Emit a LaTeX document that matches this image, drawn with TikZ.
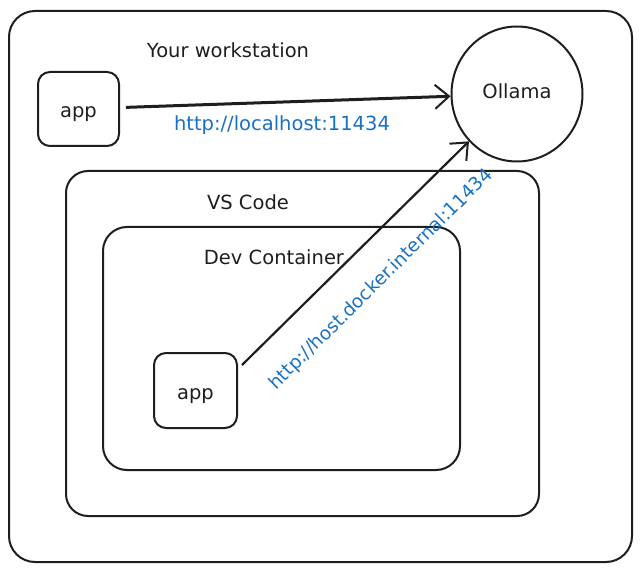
\documentclass[tikz,border=0pt]{standalone}
\usepackage{fontspec}
\setmainfont{DejaVu Sans}
\usetikzlibrary{arrows.meta,shapes.geometric}
\definecolor{ink}{HTML}{1E1E1E}
\definecolor{linkblue}{HTML}{1971C2}
\tikzset{
  box/.style={draw=ink, line width=2pt, rounded corners=#1, inner sep=0pt},
  box/.default=12pt,
  lbl/.style={text=ink, font=\fontsize{19.5}{22}\selectfont, inner sep=0pt},
  link/.style={text=linkblue, font=\fontsize{19.5}{22}\selectfont, inner sep=0pt},
  conn/.style={draw=ink, -{Straight Barb[length=14pt,width=24pt,line width=2pt]}},
}
\begin{document}
\begin{tikzpicture}[x=1pt,y=-1pt]
\useasboundingbox (0,0) rectangle (643,572);
\node[box=26pt, minimum width=623pt, minimum height=551pt] (ws) at (320.5,286.5) {};
\node[box=22pt, minimum width=473pt, minimum height=345pt] (vs) at (302.5,343.5) {};
\node[box=24pt, minimum width=357pt, minimum height=243pt] (dc) at (281.5,348.5) {};
\node[lbl] (wslbl) at (228,50) {Your workstation};
\node[lbl] (vslbl) at (248,202) {VS Code};
\node[lbl] (dclbl) at (274,257) {Dev Container};
\node[box=12pt, minimum width=81pt, minimum height=74pt, lbl] (app1) at (78.5,109) {\raisebox{-9pt}[0pt][0pt]{app}};
\node[box=12pt, minimum width=83pt, minimum height=75pt, lbl] (app2) at (195.5,390.5) {\raisebox{-9pt}[0pt][0pt]{app}};
\node[ellipse, draw=ink, line width=2pt, minimum width=131pt, minimum height=135pt, lbl] (ollama) at (517,94) {\raisebox{-5pt}[0pt][0pt]{Ollama}};
\draw[conn, line width=3pt, shorten <=6pt] (app1) -- (ollama)
  node[link, pos=0.49, below=12pt] (l1) {http://localhost:11434};
\draw[conn, line width=2.2pt] ([shift={(4,13)}]app2.north east) -- (ollama)
  node[link, font=\fontsize{18.5}{21}\selectfont, pos=0.5, sloped, below=27pt] (l2) {http://host.docker.internal:11434};
\end{tikzpicture}
\end{document}
